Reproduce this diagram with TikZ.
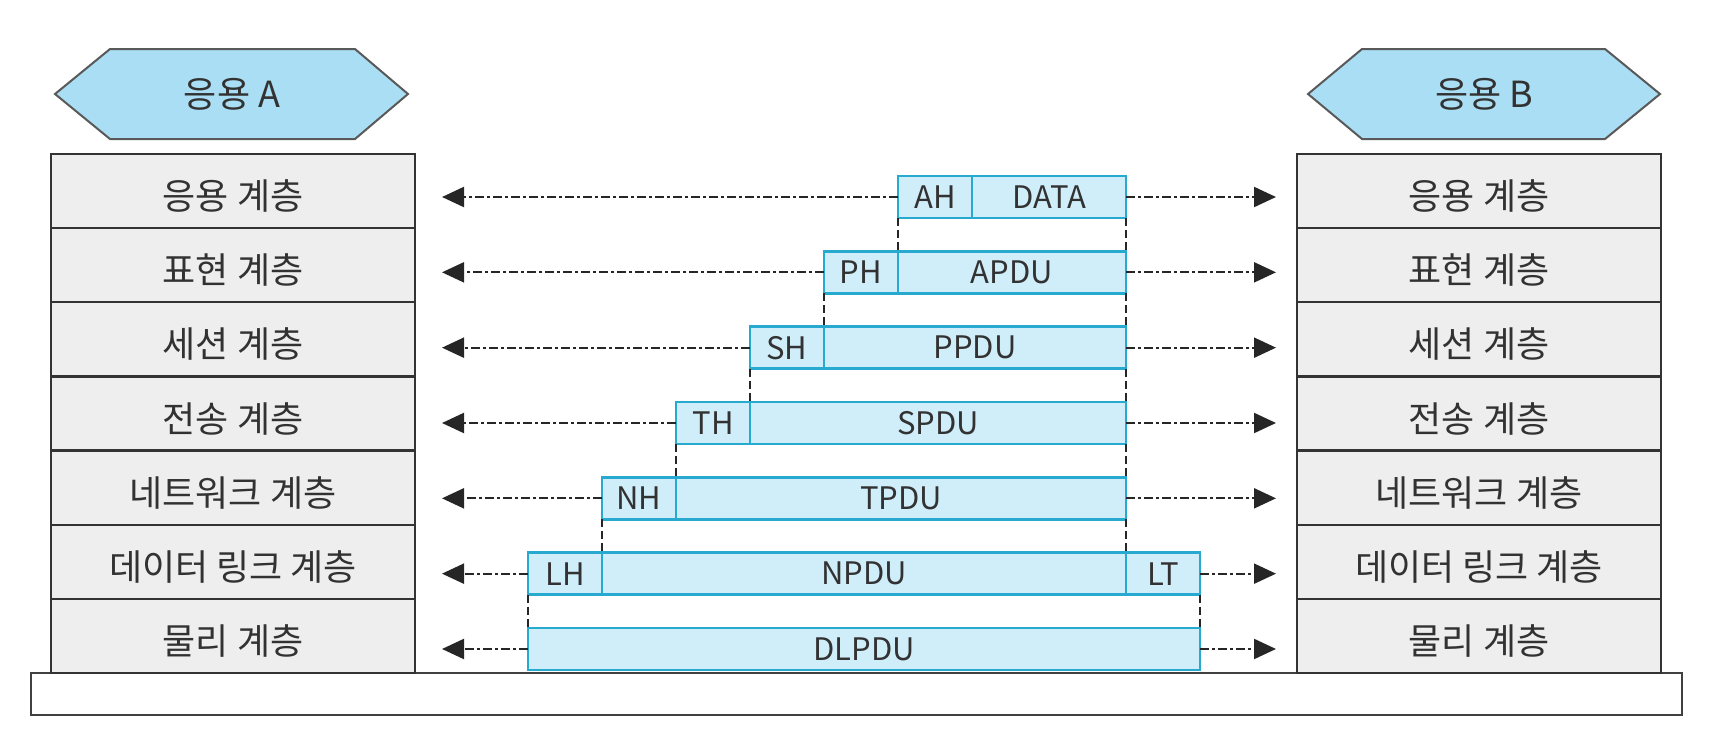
\documentclass[tikz,border=0pt]{standalone}
\usepackage{fontspec}
\setmainfont{Noto Sans CJK KR}
\usetikzlibrary{arrows.meta, positioning, calc}
\definecolor{pktline}{RGB}{40,170,208}
\definecolor{pktfill}{RGB}{208,237,250}
\definecolor{hexfill}{RGB}{170,222,244}
\definecolor{laybg}{RGB}{238,238,238}
\definecolor{txtgray}{RGB}{50,50,50}

\begin{document}
\begin{tikzpicture}[x=1pt, y=-1pt,
        layr/.style={draw=black!80, fill=laybg, line width=2.4pt, minimum width=364pt, minimum height=74.14pt, inner sep=0pt, outer sep=0pt, text=txtgray, font=\fontsize{36}{42}\selectfont},
        laytxt/.style={text=txtgray, font=\fontsize{36}{42}\selectfont, yshift=-5pt},
        pkt/.style={draw=pktline, fill=pktfill, line width=2.4pt, minimum height=42pt, inner sep=0pt, outer sep=0pt, text=txtgray, font=\fontsize{31}{37}\selectfont},
        hexa/.style={draw=black!65, fill=hexfill, line width=2pt, line join=miter},
        applbl/.style={text=txtgray, font=\fontsize{36}{42}\selectfont},
        basebox/.style={draw=black!75, fill=white, line width=2.4pt, inner sep=0pt, outer sep=0pt},
        link/.style={black!85, line width=2.2pt, dash pattern=on 9pt off 3pt on 3pt off 3pt, -{Triangle[length=22pt, width=20pt]}},
        vdash/.style={black!85, line width=2pt, dash pattern=on 8pt off 4pt}
      ]
        \useasboundingbox (0,0) rectangle (1736,748);
        \node[basebox, minimum width=1651pt, minimum height=42pt] (base) at (856.5,694) {};
        \draw[hexa] (55,94) -- (110,49) -- (355,49) -- (408,94) -- (355,139) -- (110,139) -- cycle;
        \draw[hexa] (1308,94) -- (1362,49) -- (1605,49) -- (1660,94) -- (1605,139) -- (1362,139) -- cycle;
        \node[applbl] (appA) at (232,94) {응용 A};
        \node[applbl] (appB) at (1484,94) {응용 B};
        \foreach \nm [count=\i] in {응용 계층, 표현 계층, 세션 계층, 전송 계층, 네트워크 계층, 데이터 링크 계층, 물리 계층} {
          \node[layr] (la\i) at (233, {154+74.14*(\i-0.5)}) {};
          \node[layr] (lb\i) at (1479, {154+74.14*(\i-0.5)}) {};
          \node[laytxt] (ta\i) at (la\i) {\nm};
          \node[laytxt] (tb\i) at (lb\i) {\nm};
        }
        \foreach \hd/\pl [count=\i] in {AH/DATA, PH/APDU, SH/PPDU, TH/SPDU, NH/TPDU, LH/NPDU} {
          \pgfmathsetmacro\lx{972-74*\i}
          \pgfmathsetmacro\cy{197+75.33*(\i-1)}
          \pgfmathsetmacro\pw{1126-\lx-74}
          \node[pkt, minimum width=74pt, anchor=west] (h\i) at (\lx,\cy) {\hd};
          \node[pkt, minimum width={\pw pt}, anchor=west] (p\i) at (h\i.east) {\pl};
        }
        \node[pkt, minimum width=74pt, anchor=west] (lt) at (p6.east) {LT};
        \node[pkt, minimum width=672pt, anchor=west] (d7) at (528, {197+75.33*6}) {DLPDU};
        \foreach \i/\j in {1/2, 2/3, 3/4, 4/5, 5/6} {
          \draw[vdash] (h\i.south west) -- (p\j.north west);
          \draw[vdash] (p\i.south east) -- (p\j.north east);
        }
        \draw[vdash] (h6.south west) -- (d7.north west);
        \draw[vdash] (lt.south east) -- (d7.north east);
        \foreach \i in {1,...,6} {
          \draw[link, shorten >=27pt] (h\i.west) -- (h\i.west -| la\i.east);
        }
        \foreach \i in {1,...,5} {
          \draw[link, shorten >=21pt] (p\i.east) -- (p\i.east -| lb\i.west);
        }
        \draw[link, shorten >=21pt] (lt.east) -- (lt.east -| lb6.west);
        \draw[link, shorten >=27pt] (d7.west) -- (d7.west -| la7.east);
        \draw[link, shorten >=21pt] (d7.east) -- (d7.east -| lb7.west);
      \end{tikzpicture}
\end{document}
